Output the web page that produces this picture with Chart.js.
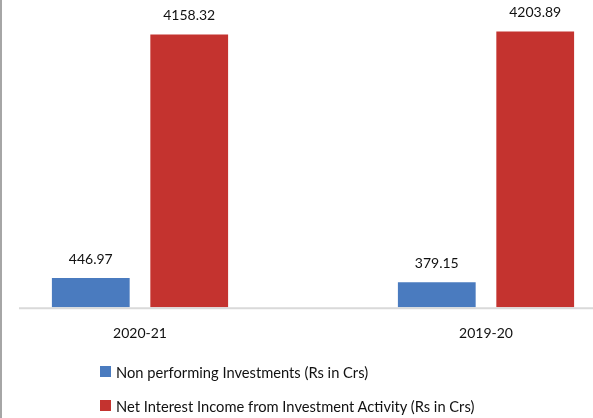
<!DOCTYPE html>
<html>
<head>
<meta charset="utf-8">
<script src="https://cdn.jsdelivr.net/npm/chart.js@4.4.0/dist/chart.umd.min.js"></script>
<style>
  html, body { margin: 0; padding: 0; background: #fff; }
  #frame {
    position: relative;
    width: 593px;
    height: 418px;
    overflow: hidden;
    font-family: Lato, sans-serif;
  }
  #left-edge {
    position: absolute;
    left: 0; top: 0;
    width: 2px; height: 418px;
    background: #a6a6a6;
  }
  #chart-box {
    position: absolute;
    left: -33px; top: 0;
    width: 692px; height: 418px;
  }
  #legend {
    position: absolute;
    left: 100px; top: 363px;
    font-size: 14.7px;
    color: #111;
  }
  .legend-row { display: flex; align-items: center; height: 17px; margin-bottom: 17px; }
  .legend-swatch { width: 11px; height: 11px; margin-right: 5px; }
</style>
</head>
<body>
<div id="frame">
  <div id="chart-box"><canvas id="chart"></canvas></div>
  <div id="left-edge"></div>
  <div id="legend"></div>
</div>
<script>
// ----- Data -----
const years = ['2020-21', '2019-20'];
const seriesNames = [
  'Non performing Investments (Rs in Crs)',
  'Net Interest Income from Investment Activity (Rs in Crs)'
];
const nonPerforming = [446.97, 379.15];
const netInterest = [4158.32, 4203.89];
const seriesColors = ['#4a7bbf', '#c4332f'];

// ----- Value labels above bars -----
const valueLabels = {
  id: 'valueLabels',
  afterDatasetsDraw(chart) {
    const c = chart.ctx;
    c.save();
    c.font = '14px Lato, sans-serif';
    c.fillStyle = '#111';
    c.textAlign = 'center';
    c.textBaseline = 'alphabetic';
    chart.data.datasets.forEach((ds, i) => {
      chart.getDatasetMeta(i).data.forEach((bar, j) => {
        c.fillText(ds.data[j].toFixed(2), bar.x, bar.y - 14);
      });
    });
    c.restore();
  }
};

// ----- Baseline (axis line starts a bit left of first group) -----
const baseline = {
  id: 'baseline',
  beforeDatasetsDraw(chart) {
    const c = chart.ctx;
    const y = chart.scales.y.getPixelForValue(0);
    c.save();
    c.strokeStyle = '#d9d9d9';
    c.lineWidth = 2;
    c.beginPath();
    c.moveTo(chart.chartArea.left + 52, y + 1);
    c.lineTo(chart.chartArea.right, y + 1);
    c.stroke();
    c.restore();
  }
};

const chart = new Chart(document.getElementById('chart'), {
  type: 'bar',
  data: {
    labels: years,
    datasets: [
      { label: seriesNames[0], data: nonPerforming, backgroundColor: seriesColors[0] },
      { label: seriesNames[1], data: netInterest, backgroundColor: seriesColors[1] }
    ]
  },
  options: {
    responsive: true,
    maintainAspectRatio: false,
    animation: false,
    categoryPercentage: 0.569,
    barPercentage: 0.79,
    layout: { padding: { top: 12, bottom: 66, left: 0, right: 0 } },
    plugins: {
      legend: { display: false },
      tooltip: { enabled: false }
    },
    scales: {
      x: {
        grid: { display: false },
        border: { display: false },
        ticks: {
          color: '#111',
          padding: 10,
          font: { family: 'Lato', size: 14 }
        }
      },
      y: {
        display: false,
        min: 0,
        max: 4500
      }
    }
  },
  plugins: [baseline, valueLabels]
});

// ----- HTML legend -----
const legendEl = document.getElementById('legend');
legendEl.innerHTML = seriesNames.map((name, i) => `
  <div class="legend-row">
    <span class="legend-swatch" style="background:${seriesColors[i]}"></span>
    <span>${name}</span>
  </div>`).join('');
</script>
</body>
</html>
